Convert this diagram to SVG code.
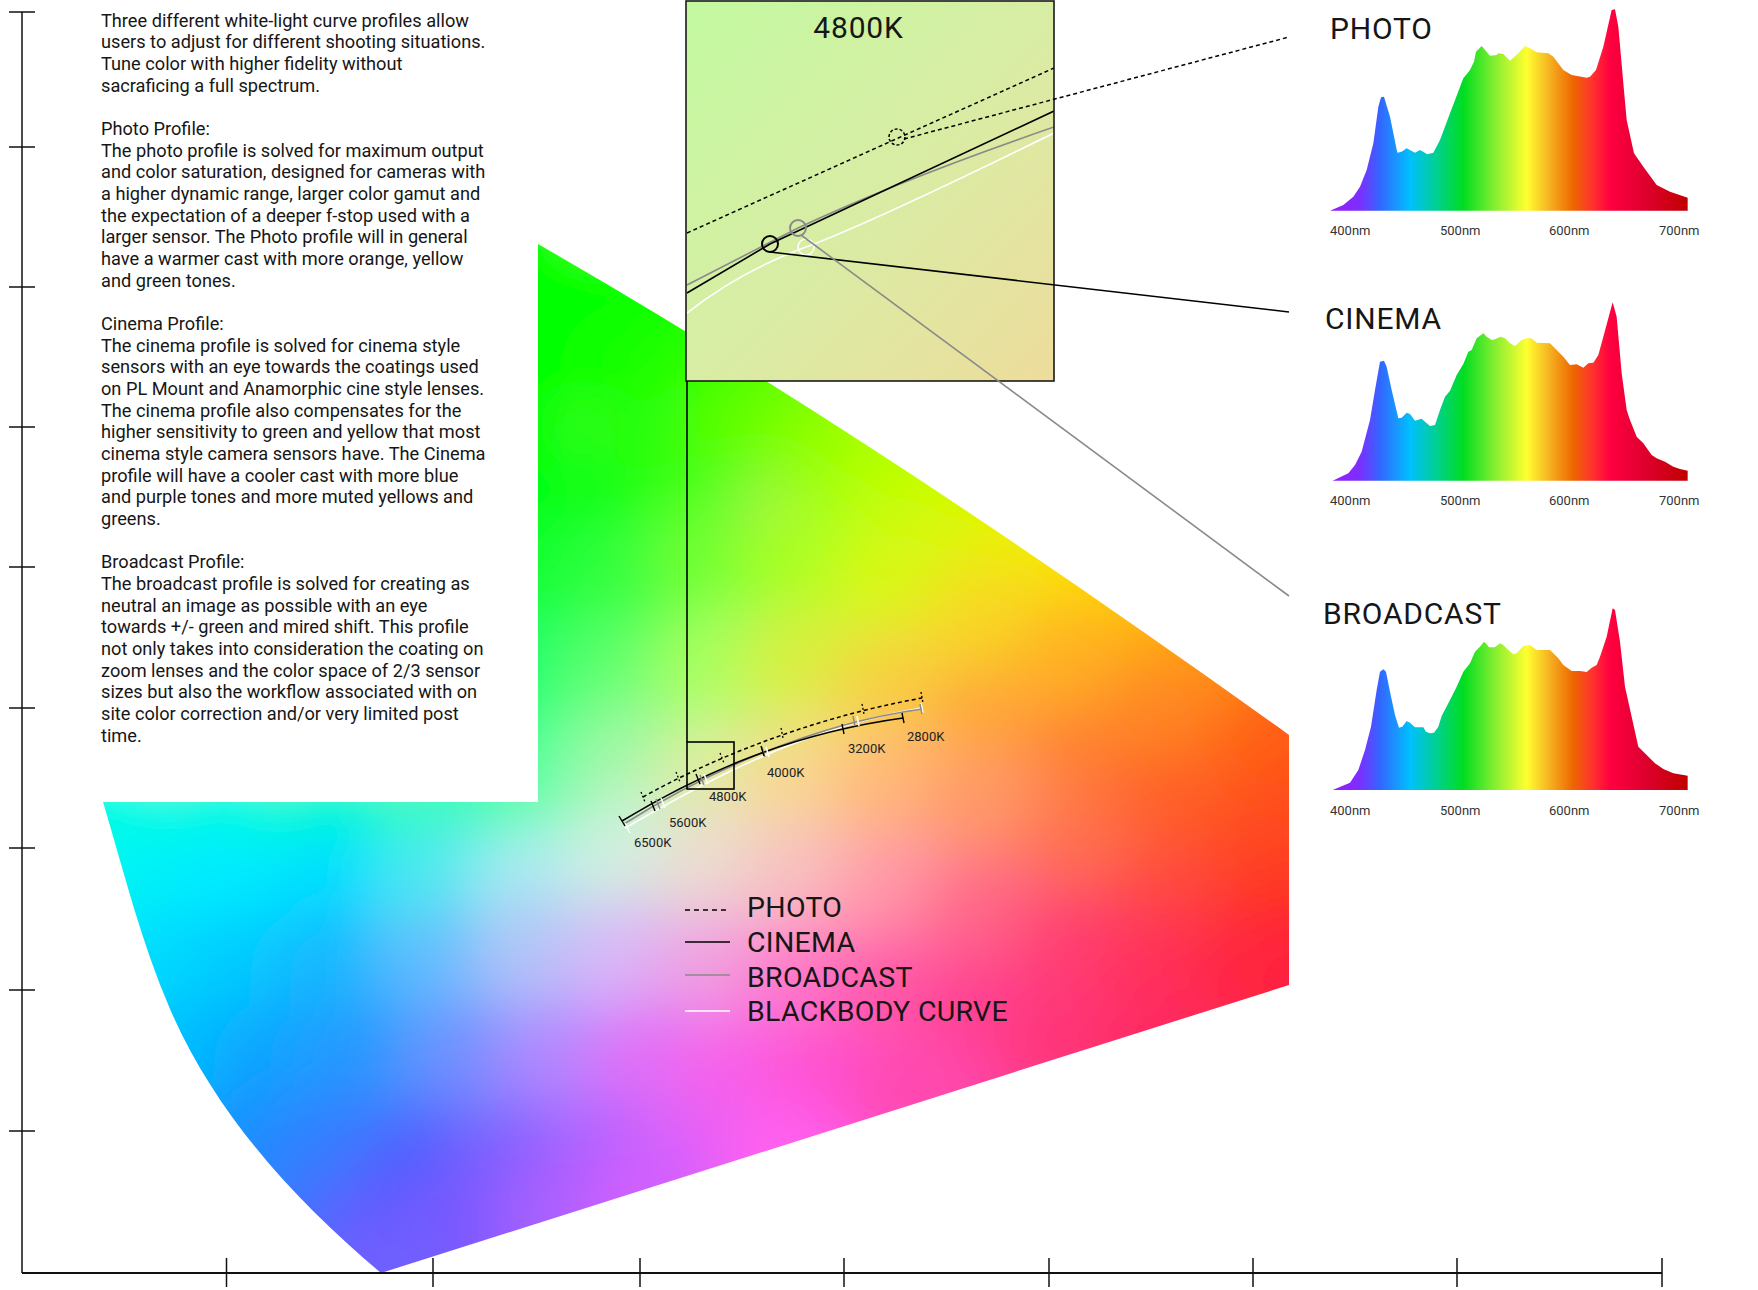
<svg xmlns="http://www.w3.org/2000/svg" width="1758" height="1290" viewBox="0 0 1758 1290">
<style>
text{font-family:Roboto,"Liberation Sans",sans-serif;fill:#161616}
.body{font-size:18.2px}
.kl{font-size:13px;fill:#222}
.nm{font-size:13px;fill:#333}
.ttl{font-size:30px;letter-spacing:0.8px}
.leg{font-size:28.5px;letter-spacing:0.3px}
.ax{stroke:#111;stroke-width:1.5;fill:none}
.blk{stroke:#000;stroke-width:1.6;fill:none}
.gry{stroke:#8a8a8a;stroke-width:1.6;fill:none}
.wht{stroke:#fff;stroke-width:1.6;fill:none}
.dot{stroke:#000;stroke-width:1.5;fill:none;stroke-dasharray:4 3}
</style>
<defs>
<clipPath id="gamutClip">
<path d="M538,244 C797,393 1046,560 1289,735 L1289,985 L381,1273 C294,1200 215,1113 170,1009 C141,942 124,872 103,802 L538,802 Z"/>
</clipPath>
<clipPath id="boxClip"><rect x="686" y="1" width="368" height="380"/></clipPath>
<filter id="soft" filterUnits="userSpaceOnUse" x="0" y="0" width="1758" height="1290">
<feGaussianBlur stdDeviation="30"/>
</filter>
<linearGradient id="boxFill" x1="0" y1="0" x2="1" y2="1">
<stop offset="0" stop-color="#c2f9a0"/>
<stop offset="0.5" stop-color="#d8eda4"/>
<stop offset="1" stop-color="#eedc9c"/>
</linearGradient>
<linearGradient id="spec" gradientUnits="userSpaceOnUse" x1="60" y1="0" x2="1133" y2="0">
<stop offset="0" stop-color="#9a1aff"/>
<stop offset="0.084" stop-color="#7a30ff"/>
<stop offset="0.14" stop-color="#3366ff"/>
<stop offset="0.224" stop-color="#00c0ff"/>
<stop offset="0.298" stop-color="#00d090"/>
<stop offset="0.373" stop-color="#00dd20"/>
<stop offset="0.457" stop-color="#80ee30"/>
<stop offset="0.55" stop-color="#ffff30"/>
<stop offset="0.615" stop-color="#f5b020"/>
<stop offset="0.68" stop-color="#ee6600"/>
<stop offset="0.736" stop-color="#ff3030"/>
<stop offset="0.783" stop-color="#ff0040"/>
<stop offset="0.876" stop-color="#e00030"/>
<stop offset="1" stop-color="#c00000"/>
</linearGradient>
</defs>

<rect width="1758" height="1290" fill="#fff"/>

<g id="gamut" clip-path="url(#gamutClip)">
<g filter="url(#soft)">
<g transform="scale(1.12117)">
<rect x="0" y="180" width="1250" height="1000" fill="#ff80a0"/>
<g>
<circle cx="420" cy="230" r="65" fill="#00ff00"/><circle cx="420" cy="330" r="65" fill="#00ff00"/><circle cx="420" cy="430" r="65" fill="#00ff10"/><circle cx="420" cy="530" r="65" fill="#10ff40"/><circle cx="420" cy="620" r="65" fill="#10ff90"/>
<circle cx="600" cy="240" r="65" fill="#10ff00"/><circle cx="700" cy="300" r="65" fill="#60ff00"/><circle cx="800" cy="370" r="65" fill="#b0ff00"/><circle cx="900" cy="430" r="65" fill="#e0f000"/><circle cx="1000" cy="500" r="65" fill="#ffd000"/><circle cx="1100" cy="560" r="65" fill="#ff9800"/><circle cx="1180" cy="600" r="65" fill="#ff6010"/>
<circle cx="40" cy="720" r="65" fill="#00ffe0"/><circle cx="60" cy="800" r="65" fill="#00f4f4"/><circle cx="80" cy="880" r="65" fill="#00e0ff"/><circle cx="110" cy="960" r="65" fill="#00c4ff"/><circle cx="160" cy="1040" r="65" fill="#1898ff"/><circle cx="220" cy="1110" r="65" fill="#3080ff"/><circle cx="290" cy="1170" r="65" fill="#5868ff"/><circle cx="350" cy="1200" r="65" fill="#7060ff"/>
<circle cx="450" cy="1160" r="65" fill="#8860ff"/><circle cx="600" cy="1110" r="65" fill="#d060ff"/><circle cx="750" cy="1060" r="65" fill="#ff60e8"/><circle cx="900" cy="1010" r="65" fill="#ff40a0"/><circle cx="1050" cy="960" r="65" fill="#ff3068"/><circle cx="1200" cy="930" r="65" fill="#ff2848"/>
<circle cx="1220" cy="700" r="65" fill="#ff5018"/><circle cx="1220" cy="800" r="65" fill="#ff3020"/><circle cx="1220" cy="900" r="65" fill="#ff2430"/>
</g>
<g>
<circle cx="480" cy="230" r="60" fill="#00ff00"/><circle cx="540" cy="260" r="60" fill="#00ff00"/><circle cx="480" cy="330" r="60" fill="#00ff00"/><circle cx="560" cy="330" r="60" fill="#08ff00"/><circle cx="480" cy="430" r="60" fill="#00ff08"/><circle cx="560" cy="430" r="60" fill="#10ff10"/><circle cx="620" cy="330" r="60" fill="#20ff00"/><circle cx="620" cy="400" r="60" fill="#30ff10"/><circle cx="680" cy="380" r="60" fill="#60ff00"/><circle cx="740" cy="410" r="60" fill="#90ff00"/><circle cx="800" cy="440" r="60" fill="#b8ff00"/><circle cx="860" cy="470" r="60" fill="#d4fa00"/><circle cx="920" cy="500" r="60" fill="#eef000"/><circle cx="980" cy="540" r="60" fill="#ffd800"/><circle cx="1040" cy="580" r="60" fill="#ffb400"/><circle cx="1100" cy="620" r="60" fill="#ff9200"/><circle cx="1150" cy="650" r="60" fill="#ff7010"/><circle cx="1180" cy="640" r="60" fill="#ff6010"/>
<circle cx="480" cy="520" r="60" fill="#10ff30"/><circle cx="560" cy="520" r="60" fill="#30ff40"/><circle cx="640" cy="500" r="60" fill="#70ff30"/><circle cx="720" cy="500" r="60" fill="#a8ff20"/><circle cx="800" cy="520" r="60" fill="#d8f818"/><circle cx="880" cy="560" r="60" fill="#f8d820"/><circle cx="960" cy="600" r="60" fill="#ffb020"/><circle cx="1040" cy="640" r="60" fill="#ff8820"/><circle cx="1120" cy="690" r="60" fill="#ff6018"/><circle cx="1180" cy="720" r="60" fill="#ff5018"/>
<circle cx="480" cy="610" r="60" fill="#20ff70"/><circle cx="560" cy="610" r="60" fill="#60ff70"/><circle cx="640" cy="600" r="60" fill="#a8ff60"/><circle cx="720" cy="600" r="60" fill="#d8f040"/><circle cx="800" cy="620" r="60" fill="#f8d040"/><circle cx="880" cy="650" r="60" fill="#ffa838"/><circle cx="960" cy="690" r="60" fill="#ff8030"/><circle cx="1040" cy="730" r="60" fill="#ff6028"/><circle cx="1120" cy="770" r="60" fill="#ff4a20"/><circle cx="1180" cy="790" r="60" fill="#ff4020"/>
<circle cx="100" cy="720" r="60" fill="#00ffe0"/><circle cx="200" cy="720" r="60" fill="#00ffd8"/><circle cx="300" cy="720" r="60" fill="#00ffc8"/><circle cx="400" cy="720" r="60" fill="#30ffb8"/><circle cx="480" cy="700" r="60" fill="#50ffa0"/><circle cx="560" cy="690" r="60" fill="#a0f8a8"/><circle cx="640" cy="700" r="60" fill="#e0eca0"/><circle cx="720" cy="700" r="60" fill="#f8d890"/><circle cx="800" cy="710" r="60" fill="#ffb878"/><circle cx="880" cy="730" r="60" fill="#ff9868"/><circle cx="960" cy="770" r="60" fill="#ff7050"/><circle cx="1040" cy="810" r="60" fill="#ff4c3c"/><circle cx="1120" cy="840" r="60" fill="#ff3028"/><circle cx="1180" cy="850" r="60" fill="#ff2820"/>
<circle cx="120" cy="790" r="60" fill="#00f4f4"/><circle cx="200" cy="790" r="60" fill="#00ecff"/><circle cx="300" cy="790" r="60" fill="#00e0ff"/><circle cx="400" cy="790" r="60" fill="#50e8f0"/><circle cx="480" cy="790" r="60" fill="#a8ecf0"/><circle cx="560" cy="770" r="60" fill="#d0f0e0"/><circle cx="640" cy="780" r="60" fill="#ecdcd0"/><circle cx="720" cy="790" r="60" fill="#f8c0c0"/><circle cx="800" cy="800" r="60" fill="#ff98a8"/><circle cx="880" cy="820" r="60" fill="#ff6888"/><circle cx="960" cy="850" r="60" fill="#ff4070"/><circle cx="1040" cy="870" r="60" fill="#ff3058"/><circle cx="1120" cy="880" r="60" fill="#ff2840"/><circle cx="1180" cy="890" r="60" fill="#ff2440"/>
<circle cx="140" cy="870" r="60" fill="#00dcff"/><circle cx="220" cy="870" r="60" fill="#00ccff"/><circle cx="300" cy="870" r="60" fill="#18b8ff"/><circle cx="400" cy="870" r="60" fill="#60bcff"/><circle cx="480" cy="860" r="60" fill="#b0c4f8"/><circle cx="560" cy="860" r="60" fill="#d8b8f8"/><circle cx="640" cy="870" r="60" fill="#f0a0e0"/><circle cx="720" cy="880" r="60" fill="#ff78c8"/><circle cx="800" cy="890" r="60" fill="#ff58a8"/><circle cx="880" cy="910" r="60" fill="#ff4090"/><circle cx="960" cy="930" r="60" fill="#ff3478"/><circle cx="1040" cy="940" r="60" fill="#ff2c60"/>
<circle cx="170" cy="950" r="60" fill="#00bcff"/><circle cx="250" cy="950" r="60" fill="#08a4ff"/><circle cx="330" cy="950" r="60" fill="#2898ff"/><circle cx="420" cy="950" r="60" fill="#7090ff"/><circle cx="500" cy="950" r="60" fill="#b088ff"/><circle cx="580" cy="950" r="60" fill="#e070f8"/><circle cx="660" cy="960" r="60" fill="#f860e8"/><circle cx="740" cy="970" r="60" fill="#ff50d0"/><circle cx="820" cy="980" r="60" fill="#ff48b0"/>
<circle cx="220" cy="1030" r="60" fill="#1890ff"/><circle cx="300" cy="1030" r="60" fill="#3080ff"/><circle cx="380" cy="1040" r="60" fill="#5060ff"/><circle cx="460" cy="1040" r="60" fill="#8060ff"/><circle cx="540" cy="1040" r="60" fill="#b060ff"/><circle cx="620" cy="1040" r="60" fill="#e060f8"/><circle cx="700" cy="1040" r="60" fill="#ff60f0"/>
<circle cx="280" cy="1100" r="60" fill="#3c74ff"/><circle cx="340" cy="1110" r="60" fill="#6058ff"/><circle cx="420" cy="1100" r="60" fill="#7858ff"/><circle cx="500" cy="1090" r="60" fill="#a860ff"/><circle cx="580" cy="1080" r="60" fill="#d060ff"/><circle cx="340" cy="1150" r="60" fill="#7060ff"/>
</g>
</g>
</g>
</g>

<g id="axes">
<line class="ax" x1="22" y1="12" x2="22" y2="1273"/>
<line class="ax" x1="22" y1="1273" x2="1662" y2="1273" style="stroke-width:2"/>
<g class="ax">
<line x1="9" y1="12" x2="35" y2="12"/><line x1="9" y1="147" x2="35" y2="147"/><line x1="9" y1="287" x2="35" y2="287"/><line x1="9" y1="427" x2="35" y2="427"/><line x1="9" y1="567" x2="35" y2="567"/><line x1="9" y1="708" x2="35" y2="708"/><line x1="9" y1="848" x2="35" y2="848"/><line x1="9" y1="990" x2="35" y2="990"/><line x1="9" y1="1131" x2="35" y2="1131"/>
<line x1="226.5" y1="1258" x2="226.5" y2="1287"/><line x1="433" y1="1258" x2="433" y2="1287"/><line x1="640" y1="1258" x2="640" y2="1287"/><line x1="844" y1="1258" x2="844" y2="1287"/><line x1="1049" y1="1258" x2="1049" y2="1287"/><line x1="1253" y1="1258" x2="1253" y2="1287"/><line x1="1457" y1="1258" x2="1457" y2="1287"/><line x1="1662" y1="1258" x2="1662" y2="1287"/>
</g>
</g>

<g id="description">
<text class="body">
<tspan x="101" y="26.7">Three different white-light curve profiles allow</tspan>
<tspan x="101" y="48.4">users to adjust for different shooting situations.</tspan>
<tspan x="101" y="70">Tune color with higher fidelity without</tspan>
<tspan x="101" y="91.7">sacraficing a full spectrum.</tspan>
<tspan x="101" y="135">Photo Profile:</tspan>
<tspan x="101" y="156.7">The photo profile is solved for maximum output</tspan>
<tspan x="101" y="178.4">and color saturation, designed for cameras with</tspan>
<tspan x="101" y="200">a higher dynamic range, larger color gamut and</tspan>
<tspan x="101" y="221.7">the expectation of a deeper f-stop used with a</tspan>
<tspan x="101" y="243.4">larger sensor. The Photo profile will in general</tspan>
<tspan x="101" y="265">have a warmer cast with more orange, yellow</tspan>
<tspan x="101" y="286.7">and green tones.</tspan>
<tspan x="101" y="330">Cinema Profile:</tspan>
<tspan x="101" y="351.7">The cinema profile is solved for cinema style</tspan>
<tspan x="101" y="373.4">sensors with an eye towards the coatings used</tspan>
<tspan x="101" y="395">on PL Mount and Anamorphic cine style lenses.</tspan>
<tspan x="101" y="416.7">The cinema profile also compensates for the</tspan>
<tspan x="101" y="438.4">higher sensitivity to green and yellow that most</tspan>
<tspan x="101" y="460">cinema style camera sensors have. The Cinema</tspan>
<tspan x="101" y="481.7">profile will have a cooler cast with more blue</tspan>
<tspan x="101" y="503.4">and purple tones and more muted yellows and</tspan>
<tspan x="101" y="525">greens.</tspan>
<tspan x="101" y="568.4">Broadcast Profile:</tspan>
<tspan x="101" y="590">The broadcast profile is solved for creating as</tspan>
<tspan x="101" y="611.7">neutral an image as possible with an eye</tspan>
<tspan x="101" y="633.4">towards +/- green and mired shift. This profile</tspan>
<tspan x="101" y="655">not only takes into consideration the coating on</tspan>
<tspan x="101" y="676.7">zoom lenses and the color space of 2/3 sensor</tspan>
<tspan x="101" y="698.4">sizes but also the workflow associated with on</tspan>
<tspan x="101" y="720">site color correction and/or very limited post</tspan>
<tspan x="101" y="741.7">time.</tspan>
</text>
</g>

<g id="curves">
<path class="dot" d="M643,797 C700,765 800,720 922,698"/>
<path class="wht" d="M625,828 C700,785 800,728 922,708"/>
<path class="gry" d="M624,824 C690,782 800,726 922,709"/>
<path class="blk" d="M622,821 C690,780 780,735 903,718"/>
<g stroke="#fff" stroke-width="1.6">
<line x1="625" y1="823" x2="630" y2="833"/><line x1="661" y1="798" x2="665" y2="808"/><line x1="704" y1="774" x2="708" y2="784"/><line x1="766" y1="747" x2="769" y2="757"/><line x1="857" y1="716" x2="859" y2="726"/><line x1="921" y1="703" x2="923" y2="713"/>
</g>
<g stroke="#8a8a8a" stroke-width="1.4">
<line x1="656" y1="799" x2="660" y2="809"/><line x1="700" y1="775" x2="704" y2="785"/><line x1="762" y1="747" x2="765" y2="757"/><line x1="853" y1="716" x2="855" y2="726"/><line x1="920" y1="704" x2="922" y2="714"/>
</g>
<g stroke="#000" stroke-width="1.4">
<line x1="619" y1="816" x2="625" y2="826"/><line x1="651" y1="801" x2="655" y2="811"/><line x1="696" y1="774" x2="700" y2="784"/><line x1="761" y1="746" x2="764" y2="756"/><line x1="842" y1="724" x2="844" y2="734"/><line x1="902" y1="713" x2="904" y2="723"/>
</g>
<g stroke="#000" stroke-width="1.3" stroke-dasharray="2 2">
<line x1="641" y1="792" x2="645" y2="802"/><line x1="676" y1="772" x2="680" y2="782"/><line x1="720" y1="753" x2="724" y2="763"/><line x1="781" y1="728" x2="783" y2="738"/><line x1="862" y1="704" x2="864" y2="714"/><line x1="921" y1="692" x2="923" y2="703"/>
</g>
<text class="kl" x="634" y="847">6500K</text>
<text class="kl" x="669" y="827">5600K</text>
<text class="kl" x="709" y="801">4800K</text>
<text class="kl" x="767" y="777">4000K</text>
<text class="kl" x="848" y="753">3200K</text>
<text class="kl" x="907" y="741">2800K</text>
</g>

<g id="zoom-box">
<rect x="686" y="1" width="368" height="380" fill="url(#boxFill)"/>
<text class="ttl" x="858.5" y="38" text-anchor="middle">4800K</text>
<g clip-path="url(#boxClip)">
<path class="dot" d="M687,233 L1054,68"/>
<path class="wht" d="M687,313 Q741,271 806,247 T1054,133"/>
<path class="gry" d="M687,285 L798,228 Q900,180 1054,127"/>
<path class="blk" d="M687,293 L770,244 L1054,111"/>
</g>
<circle cx="897" cy="137" r="8" fill="none" stroke="#000" stroke-width="1.5" stroke-dasharray="3 2"/>
<circle cx="806" cy="247" r="8" fill="none" stroke="#fff" stroke-width="1.5"/>
<circle cx="798" cy="228" r="8" fill="none" stroke="#8a8a8a" stroke-width="2"/>
<circle cx="770" cy="244" r="8" fill="none" stroke="#000" stroke-width="2"/>
<rect x="686" y="1" width="368" height="380" fill="none" stroke="#1a1a1a" stroke-width="1.6"/>
</g>

<g id="connectors">
<line class="blk" x1="687" y1="381" x2="687" y2="742"/>
<rect x="687" y="742" width="47" height="47" fill="none" stroke="#000" stroke-width="1.6"/>
<line class="dot" x1="904" y1="139" x2="1289" y2="37"/>
<line class="blk" x1="770" y1="252" x2="1289" y2="312"/>
<line class="gry" x1="801" y1="235" x2="1289" y2="596"/>
</g>

<g id="spectrum-photo">
<text class="ttl" x="1330" y="39">PHOTO</text>
<path transform="translate(1310 0) scale(0.33333)" fill="url(#spec)" d="M60,632 L100,615 L130,590 L150,560 L170,510 L190,430 L205,320 L213,292 L222,290 L240,350 L262,458 L275,455 L290,445 L315,458 L330,450 L352,463 L370,458 L390,420 L420,340 L460,235 L480,210 L492,185 L498,155 L515,138 L540,167 L560,165 L565,160 L580,162 L600,182 L625,160 L645,138 L660,145 L680,157 L715,160 L730,170 L760,210 L785,225 L830,233 L840,230 L858,210 L880,140 L905,30 L915,28 L925,80 L940,250 L950,360 L972,460 L1000,500 L1040,555 L1080,575 L1133,593 L1133,632 Z"/>
<text class="nm" x="1330" y="235">400nm</text><text class="nm" x="1440" y="235">500nm</text><text class="nm" x="1549" y="235">600nm</text><text class="nm" x="1659" y="235">700nm</text>
</g>

<g id="spectrum-cinema">
<text class="ttl" x="1325" y="329">CINEMA</text>
<path transform="translate(1310 290) scale(0.33333)" fill="url(#spec)" d="M68,572 L115,550 L135,525 L155,485 L180,390 L195,300 L210,215 L222,212 L230,230 L245,300 L265,385 L275,383 L290,368 L300,372 L315,392 L335,386 L345,395 L360,408 L375,405 L390,360 L405,320 L420,302 L440,255 L460,222 L475,185 L485,180 L500,145 L520,130 L530,140 L545,150 L555,148 L572,140 L585,145 L600,160 L615,168 L635,150 L650,145 L665,145 L680,158 L720,160 L740,180 L760,200 L780,225 L800,223 L820,233 L835,220 L850,218 L865,195 L880,140 L908,37 L920,80 L935,250 L950,360 L960,390 L980,440 L1000,460 L1025,495 L1040,505 L1065,515 L1090,530 L1110,537 L1133,542 L1133,572 Z"/>
<text class="nm" x="1330" y="505">400nm</text><text class="nm" x="1440" y="505">500nm</text><text class="nm" x="1549" y="505">600nm</text><text class="nm" x="1659" y="505">700nm</text>
</g>

<g id="spectrum-broadcast">
<text class="ttl" x="1323" y="624">BROADCAST</text>
<path transform="translate(1310 590) scale(0.33333)" fill="url(#spec)" d="M68,600 L120,578 L145,540 L165,480 L183,410 L200,300 L210,245 L220,238 L228,245 L240,305 L255,375 L267,413 L277,410 L290,393 L300,398 L315,412 L340,412 L348,425 L360,430 L372,428 L385,410 L395,378 L420,330 L440,290 L460,245 L480,220 L495,185 L510,170 L522,155 L530,163 L537,172 L555,172 L570,160 L580,165 L595,180 L610,193 L620,190 L640,168 L660,165 L680,180 L720,180 L745,205 L760,225 L785,243 L810,243 L830,246 L845,233 L860,225 L870,200 L890,140 L908,55 L915,60 L930,155 L945,290 L965,380 L985,470 L1010,495 L1035,520 L1060,537 L1090,550 L1133,557 L1133,600 Z"/>
<text class="nm" x="1330" y="815">400nm</text><text class="nm" x="1440" y="815">500nm</text><text class="nm" x="1549" y="815">600nm</text><text class="nm" x="1659" y="815">700nm</text>
</g>

<g id="legend">
<line x1="685" y1="910" x2="730" y2="910" stroke="#000" stroke-width="1.5" stroke-dasharray="5 4"/>
<line x1="685" y1="942" x2="730" y2="942" stroke="#000" stroke-width="1.6"/>
<line x1="685" y1="975" x2="730" y2="975" stroke="#8a8a8a" stroke-width="1.6"/>
<line x1="685" y1="1011" x2="730" y2="1011" stroke="#fff" stroke-width="1.6"/>
<text class="leg" x="747" y="917">PHOTO</text>
<text class="leg" x="747" y="952">CINEMA</text>
<text class="leg" x="747" y="987">BROADCAST</text>
<text class="leg" x="747" y="1021">BLACKBODY CURVE</text>
</g>
</svg>
